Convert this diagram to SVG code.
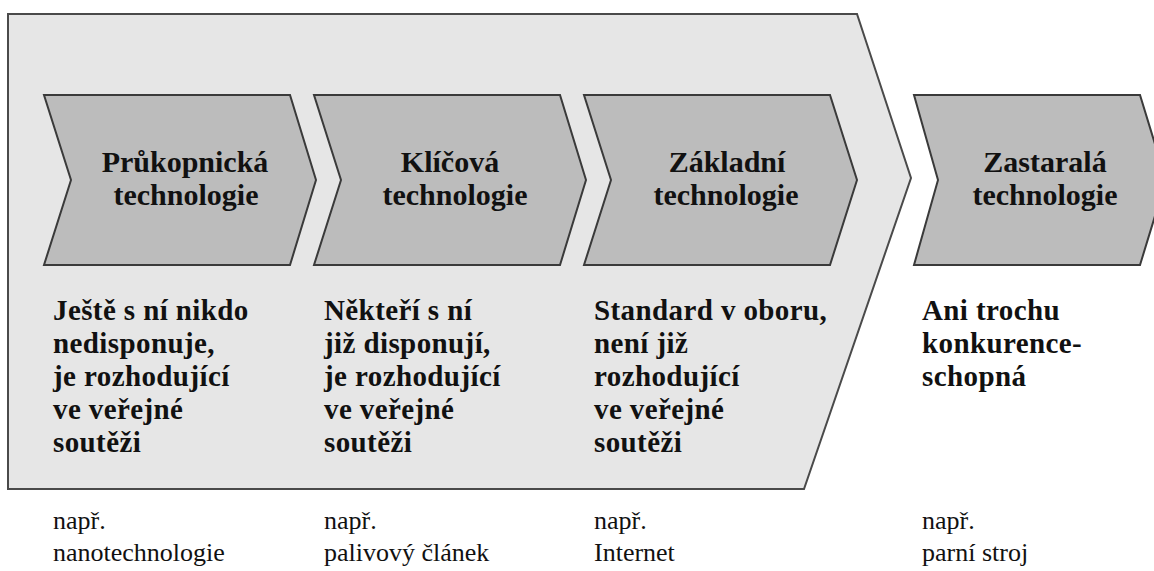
<svg xmlns="http://www.w3.org/2000/svg" width="1154" height="571" viewBox="0 0 1154 571">
<style>
.outer{fill:#e6e6e6;stroke:#4a4a4a;stroke-width:2}
.chev{fill:#bcbcbc;stroke:#3a3a3a;stroke-width:2}
.title{font-weight:bold;font-size:30px;text-anchor:middle;fill:#111}
.body{font-weight:bold;font-size:29px;letter-spacing:0.4px;fill:#111}
.ex{font-size:26px;fill:#111}
</style>
<rect width="1154" height="571" fill="#fff"/>
<g id="outer">
<polygon class="outer" points="8,14 857,14 911,178 804,489 8,489"/>
</g>
<g id="pioneer">
<polygon class="chev" points="44,95 290,95 316,180 290,265 44,265 71,180"/>
<text font-family="Liberation Serif" class="title" x="185" y="172">Průkopnická</text>
<text font-family="Liberation Serif" class="title" x="186" y="205">technologie</text>
<text font-family="Liberation Serif" class="body" x="53" y="320">Ještě s ní nikdo</text>
<text font-family="Liberation Serif" class="body" x="53" y="353">nedisponuje,</text>
<text font-family="Liberation Serif" class="body" x="53" y="386">je rozhodující</text>
<text font-family="Liberation Serif" class="body" x="53" y="419">ve veřejné</text>
<text font-family="Liberation Serif" class="body" x="53" y="452">soutěži</text>
<text font-family="Liberation Serif" class="ex" x="53" y="529">např.</text>
<text font-family="Liberation Serif" class="ex" x="53" y="561">nanotechnologie</text>
</g>
<g id="key">
<polygon class="chev" points="314,95 560,95 586,180 560,265 314,265 341,180"/>
<text font-family="Liberation Serif" class="title" x="450" y="172">Klíčová</text>
<text font-family="Liberation Serif" class="title" x="455" y="205">technologie</text>
<text font-family="Liberation Serif" class="body" x="324" y="320">Někteří s ní</text>
<text font-family="Liberation Serif" class="body" x="324" y="353">již disponují,</text>
<text font-family="Liberation Serif" class="body" x="324" y="386">je rozhodující</text>
<text font-family="Liberation Serif" class="body" x="324" y="419">ve veřejné</text>
<text font-family="Liberation Serif" class="body" x="324" y="452">soutěži</text>
<text font-family="Liberation Serif" class="ex" x="324" y="529">např.</text>
<text font-family="Liberation Serif" class="ex" x="324" y="561">palivový článek</text>
</g>
<g id="base">
<polygon class="chev" points="584,95 830,95 857,180 830,265 584,265 611,180"/>
<text font-family="Liberation Serif" class="title" x="727" y="172">Základní</text>
<text font-family="Liberation Serif" class="title" x="726" y="205">technologie</text>
<text font-family="Liberation Serif" class="body" x="594" y="320">Standard v oboru,</text>
<text font-family="Liberation Serif" class="body" x="594" y="353">není již</text>
<text font-family="Liberation Serif" class="body" x="594" y="386">rozhodující</text>
<text font-family="Liberation Serif" class="body" x="594" y="419">ve veřejné</text>
<text font-family="Liberation Serif" class="body" x="594" y="452">soutěži</text>
<text font-family="Liberation Serif" class="ex" x="594" y="529">např.</text>
<text font-family="Liberation Serif" class="ex" x="594" y="561">Internet</text>
</g>
<g id="obsolete">
<polygon class="chev" points="914,95 1140,95 1166,180 1140,265 914,265 938,180"/>
<text font-family="Liberation Serif" class="title" x="1045" y="172">Zastaralá</text>
<text font-family="Liberation Serif" class="title" x="1045" y="205">technologie</text>
<text font-family="Liberation Serif" class="body" x="922" y="320">Ani trochu</text>
<text font-family="Liberation Serif" class="body" x="922" y="353">konkurence-</text>
<text font-family="Liberation Serif" class="body" x="922" y="386">schopná</text>
<text font-family="Liberation Serif" class="ex" x="922" y="529">např.</text>
<text font-family="Liberation Serif" class="ex" x="922" y="561">parní stroj</text>
</g>
<g id="connectors"/>
</svg>
